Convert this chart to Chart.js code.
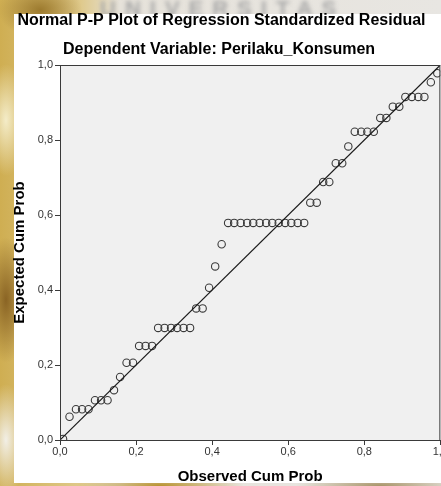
<!DOCTYPE html>
<html lang="en">
<head>
    <meta charset="UTF-8">
    <title>Normal P-P Plot</title>
    <style>
        html, body { margin: 0; padding: 0; }
        body {
            width: 441px; height: 486px; overflow: hidden; position: relative;
            background:
                radial-gradient(ellipse 60px 40px at 40px 10px, #9c7a2e, rgba(156,122,46,0) 70%),
                radial-gradient(ellipse 30px 80px at 6px 120px, #f4ecc8, rgba(244,236,200,0) 70%),
                radial-gradient(ellipse 30px 90px at 6px 300px, #8a6424, rgba(138,100,36,0) 70%),
                radial-gradient(ellipse 30px 80px at 6px 440px, #f2efe6, rgba(242,239,230,0) 70%),
                radial-gradient(ellipse 120px 20px at 160px 486px, #b8922e, rgba(184,146,46,0) 70%),
                radial-gradient(ellipse 120px 20px at 380px 486px, #a89468, rgba(168,148,104,0) 70%),
                linear-gradient(90deg, #cfae52 0px, #dfc98a 80px, #e6e2da 120px, #e8e6e2 441px);
        }
        .watermark {
            position: absolute; left: 100px; top: -4px; font: bold 22px "Liberation Sans", Arial, sans-serif;
            color: #a8a8a8; letter-spacing: 9px; filter: blur(2px); white-space: nowrap;
        }
        .panel {
            position: absolute; left: 14px; top: 14px; width: 427px; height: 469px; background: #ffffff;
        }
        #wrap { position: absolute; left: 0; top: 0; }
    </style>
</head>
<body>
    <div class="watermark">UNIVERSITAS</div>
    <div class="panel"></div>
    <div id="wrap"><canvas id="ppChart" width="448" height="486"></canvas></div>

    <script src="https://cdn.jsdelivr.net/npm/chart.js@4.4.0/dist/chart.umd.min.js"></script>
    <script>
        // observed cum prob (x) and expected cum prob (y)
        var observed = [
            0.008, 0.025, 0.042, 0.058, 0.075, 0.092, 0.108, 0.125, 0.142, 0.158,
            0.175, 0.192, 0.208, 0.225, 0.242, 0.258, 0.275, 0.292, 0.308, 0.325,
            0.342, 0.358, 0.375, 0.392, 0.408, 0.425, 0.442, 0.458, 0.475, 0.492,
            0.508, 0.525, 0.542, 0.558, 0.575, 0.592, 0.608, 0.625, 0.642, 0.658,
            0.675, 0.692, 0.708, 0.725, 0.742, 0.758, 0.775, 0.792, 0.808, 0.825,
            0.842, 0.858, 0.875, 0.892, 0.908, 0.925, 0.942, 0.958, 0.975, 0.992
        ];
        var expected = [
            0.003, 0.062, 0.082, 0.082, 0.082, 0.106, 0.106, 0.106, 0.133, 0.168,
            0.206, 0.206, 0.251, 0.251, 0.251, 0.299, 0.299, 0.299, 0.299, 0.299,
            0.299, 0.351, 0.351, 0.406, 0.463, 0.522, 0.579, 0.579, 0.579, 0.579,
            0.579, 0.579, 0.579, 0.579, 0.579, 0.579, 0.579, 0.579, 0.579, 0.633,
            0.633, 0.688, 0.688, 0.738, 0.738, 0.783, 0.822, 0.822, 0.822, 0.822,
            0.859, 0.859, 0.889, 0.889, 0.915, 0.915, 0.915, 0.915, 0.954, 0.978
        ];
        var refLine = [0, 1];
        var tickValues = [0, 0.2, 0.4, 0.6, 0.8, 1.0];
        var tickLabels = ['0,0', '0,2', '0,4', '0,6', '0,8', '1,0'];

        var mainTitle = 'Normal P-P Plot of Regression Standardized Residual';
        var subTitle = 'Dependent Variable: Perilaku_Konsumen';

        var points = observed.map(function (x, i) { return { x: x, y: expected[i] }; });
        var linePts = refLine.map(function (v) { return { x: v, y: v }; });

        function tickText(value) {
            var i = tickValues.findIndex(function (t) { return Math.abs(t - value) < 1e-6; });
            return i >= 0 ? tickLabels[i] : '';
        }

        // plot background, frame and the two titles
        var frame = {
            id: 'frame',
            beforeDraw: function (chart) {
                var a = chart.chartArea, ctx = chart.ctx;
                ctx.save();
                ctx.fillStyle = '#f0f0f0';
                ctx.fillRect(a.left, a.top, a.right - a.left, a.bottom - a.top);
                ctx.restore();
            },
            afterDraw: function (chart) {
                var a = chart.chartArea, ctx = chart.ctx;
                ctx.save();
                ctx.strokeStyle = '#3a3a3a';
                ctx.lineWidth = 1;
                ctx.strokeRect(a.left + 0.5, a.top + 0.5, a.right - a.left - 1, a.bottom - a.top);
                ctx.fillStyle = '#000';
                ctx.textAlign = 'center';
                ctx.textBaseline = 'middle';
                ctx.font = 'bold 16px "Liberation Sans", Arial, sans-serif';
                ctx.fillText(mainTitle, 221.5, 21);
                ctx.fillText(subTitle, 219, 50);
                ctx.restore();
            }
        };

        new Chart(document.getElementById('ppChart'), {
            type: 'scatter',
            data: {
                datasets: [
                    {
                        type: 'line',
                        data: linePts,
                        borderColor: '#1a1a1a',
                        borderWidth: 1.2,
                        pointRadius: 0,
                        fill: false
                    },
                    {
                        data: points,
                        pointRadius: 3.7,
                        pointBorderWidth: 1.1,
                        pointBorderColor: '#3a3a3a',
                        pointBackgroundColor: 'rgba(0,0,0,0)'
                    }
                ]
            },
            options: {
                responsive: false,
                animation: false,
                devicePixelRatio: 1,
                layout: { padding: { top: 65, left: 0, right: 0, bottom: 0 } },
                plugins: { legend: { display: false }, tooltip: { enabled: false } },
                scales: {
                    x: {
                        type: 'linear', min: 0, max: 1,
                        afterBuildTicks: function (s) { s.ticks = tickValues.map(function (v) { return { value: v }; }); },
                        afterFit: function (s) { s.height = 46; },
                        grid: { drawOnChartArea: false, drawTicks: true, tickLength: 5, color: '#3a3a3a' },
                        border: { display: true, color: '#3a3a3a', width: 1 },
                        ticks: {
                            padding: 0, color: '#333', maxRotation: 0,
                            font: { family: '"Liberation Sans", Arial, sans-serif', size: 11 },
                            callback: tickText
                        },
                        title: {
                            display: true, text: 'Observed Cum Prob', color: '#000',
                            font: { family: '"Liberation Sans", Arial, sans-serif', size: 15, weight: 'bold', lineHeight: 1.2 },
                            padding: { top: 0, bottom: 0 }
                        }
                    },
                    y: {
                        type: 'linear', min: 0, max: 1,
                        afterBuildTicks: function (s) { s.ticks = tickValues.map(function (v) { return { value: v }; }); },
                        afterFit: function (s) { s.width = 60; },
                        grid: { drawOnChartArea: false, drawTicks: true, tickLength: 5, color: '#3a3a3a' },
                        border: { display: true, color: '#3a3a3a', width: 1 },
                        ticks: {
                            padding: 2, color: '#333',
                            font: { family: '"Liberation Sans", Arial, sans-serif', size: 11 },
                            callback: tickText
                        },
                        title: {
                            display: true, text: 'Expected Cum Prob', color: '#000',
                            font: { family: '"Liberation Sans", Arial, sans-serif', size: 15, weight: 'bold', lineHeight: 1.2 },
                            padding: { top: 11, bottom: 0 }
                        }
                    }
                }
            },
            plugins: [frame]
        });
    </script>
</body>
</html>
